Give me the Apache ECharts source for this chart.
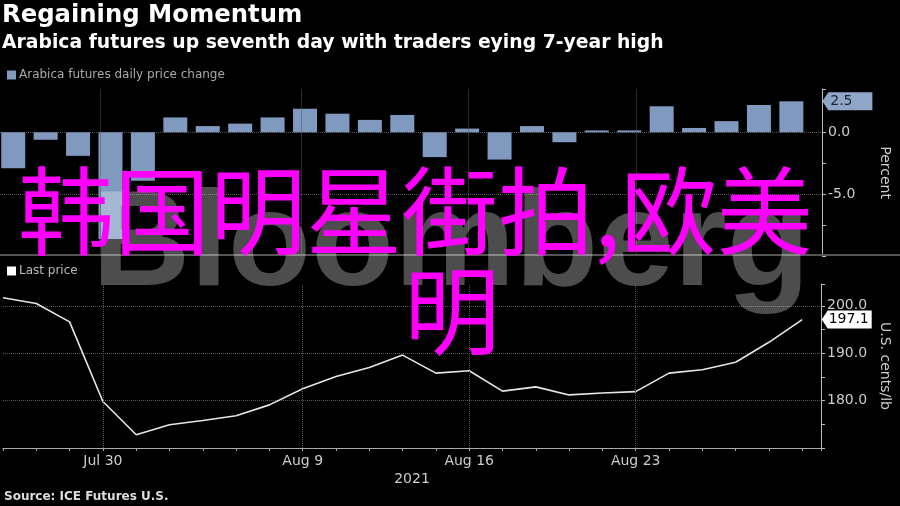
<!DOCTYPE html>
<html><head><meta charset="utf-8">
<script src="https://cdn.jsdelivr.net/npm/echarts@6/dist/echarts.min.js"></script>
<style>html,body{margin:0;padding:0;background:#000}#c{width:900px;height:506px}</style>
</head><body><div id="c"></div>
<script>
// ---- data ----
const dates = ['Jul 27','Jul 28','Jul 29','Jul 30','Aug 2','Aug 3','Aug 4','Aug 5','Aug 6','Aug 9','Aug 10','Aug 11','Aug 12','Aug 13','Aug 16','Aug 17','Aug 18','Aug 19','Aug 20','Aug 23','Aug 24','Aug 25','Aug 26','Aug 27','Aug 30'];
const priceChange = [-2.9,-0.6,-1.9,-8.6,-3.9,1.2,0.5,0.7,1.2,1.9,1.5,1.0,1.4,-2.0,0.3,-2.2,0.5,-0.8,0.15,0.15,2.1,0.35,0.9,2.2,2.5];
const lastPrice = [201.7,200.5,196.6,179.8,172.8,174.9,175.8,176.8,179.1,182.5,185.1,187.0,189.6,185.8,186.3,182.0,182.9,181.2,181.6,181.9,185.8,186.5,188.1,192.3,197.1];
const labelDates = ['Jul 30','Aug 9','Aug 16','Aug 23'];
const yearLabel = '2021';

const labelIdx = labelDates.map(d => dates.indexOf(d));
const last = dates.length - 1;
const gridLine = {type:'dotted', color:'#555', width:1};
const tagPath = 'path://M0,9 L6,0 L50,0 L50,18 L6,18 Z';
const FF = 'DejaVu Sans';

const chart = echarts.init(document.getElementById('c'), null, {renderer:'canvas'});
chart.setOption({
  backgroundColor:'#000',
  animation:false,
  textStyle:{fontFamily:FF},
  title:{
    text:'Regaining Momentum',
    subtext:'Arabica futures up seventh day with traders eying 7-year high',
    left:2, top:4, padding:0, itemGap:6,
    textStyle:{color:'#fff', fontSize:24.3, fontWeight:'bold', fontFamily:FF},
    subtextStyle:{color:'#fff', fontSize:18.8, fontWeight:'bold', fontFamily:FF}
  },
  legend:[
    {data:[{name:'Arabica futures daily price change', icon:'rect'}], left:7, top:69, padding:0,
     itemWidth:9, itemHeight:9, itemGap:4, selectedMode:false,
     textStyle:{color:'#aaa', fontSize:12, fontFamily:FF, padding:[0,0,0,-2]}},
    {data:[{name:'Last price', icon:'rect'}], left:7, top:265, padding:0,
     itemWidth:9, itemHeight:9, itemGap:4, selectedMode:false,
     textStyle:{color:'#bbb', fontSize:12, fontFamily:FF, padding:[0,0,0,-2]}}
  ],
  grid:[
    {left:0, width:826, top:88.9, height:167.4},
    {left:0, width:826, top:284, height:164}
  ],
  xAxis:[
    {gridIndex:0, type:'value', min:-0.408, max:24.945, show:false, axisLine:{onZero:false}},
    {gridIndex:0, type:'value', min:0, max:24.565, show:false, axisLine:{onZero:false}},
    {gridIndex:1, type:'value', min:0, max:24.565, interval:1,
     axisLine:{show:true, onZero:false, lineStyle:{color:'#aaa', width:1}},
     axisTick:{show:true, length:3, lineStyle:{color:'#aaa'}},
     axisLabel:{color:'#ccc', fontSize:14, margin:6, fontFamily:FF,
       formatter:v => { const i = Math.round(v); return (Math.abs(v - i) < 1e-6 && labelDates.includes(dates[i])) ? dates[i] : ''; }},
     splitLine:{show:false}}
  ],
  yAxis:[
    {gridIndex:0, type:'value', position:'right', min:-10, max:3.5, interval:5,
     name:'Percent', nameLocation:'middle', nameRotate:-90, nameGap:56,
     nameTextStyle:{color:'#ccc', fontSize:14, fontFamily:FF},
     axisLine:{show:true, onZero:false, lineStyle:{color:'#bbb'}},
     axisTick:{show:true, length:4, lineStyle:{color:'#bbb'}},
     minorTick:{show:true, splitNumber:2, length:4, lineStyle:{color:'#bbb'}},
     axisLabel:{color:'#ccc', fontSize:14, margin:6, showMinLabel:false, showMaxLabel:false, fontFamily:FF,
       formatter:v => v.toFixed(1)},
     splitLine:{show:true, showMinLine:false, showMaxLine:false, lineStyle:gridLine}},
    {gridIndex:1, type:'value', position:'right', min:170, max:204.6, interval:10,
     name:'U.S. cents/lb', nameLocation:'middle', nameRotate:-90, nameGap:56,
     nameTextStyle:{color:'#ccc', fontSize:14, fontFamily:FF},
     axisLine:{show:true, onZero:false, lineStyle:{color:'#bbb'}},
     axisTick:{show:true, length:4, lineStyle:{color:'#bbb'}},
     minorTick:{show:true, splitNumber:2, length:4, lineStyle:{color:'#bbb'}},
     axisLabel:{color:'#ccc', fontSize:14, margin:6, showMinLabel:false, showMaxLabel:false, fontFamily:FF,
       formatter:v => v.toFixed(1)},
     splitLine:{show:true, showMinLine:false, showMaxLine:false, lineStyle:gridLine}}
  ],
  series:[
    {name:'Arabica futures daily price change', type:'bar', xAxisIndex:0, yAxisIndex:0,
     barWidth:24, itemStyle:{color:'#8099bf'},
     data:priceChange.map((v,i)=>[i,v]),
     markPoint:{symbol:tagPath, symbolSize:[50,18], symbolOffset:[56,0], silent:true,
       itemStyle:{color:'#8fa6c8'},
       label:{show:true, position:'inside', offset:[-6,0], color:'#1a2233', fontSize:14, fontFamily:FF,
         formatter:p => Number(p.value).toFixed(1)},
       data:[{coord:[last, priceChange[last]], value:priceChange[last]}]}},
    {name:'gridHelper', type:'line', xAxisIndex:1, yAxisIndex:0, data:[], silent:true,
     markLine:{symbol:'none', silent:true, label:{show:false}, lineStyle:gridLine,
       data:labelIdx.map(i=>({xAxis:i}))}},
    {name:'Last price', type:'line', xAxisIndex:2, yAxisIndex:1, symbol:'none',
     lineStyle:{color:'#e6e6e6', width:1.6}, itemStyle:{color:'#fff'},
     data:lastPrice.map((v,i)=>[i,v]),
     markLine:{symbol:'none', silent:true, label:{show:false}, lineStyle:gridLine,
       data:labelIdx.map(i=>({xAxis:i}))},
     markPoint:{symbol:tagPath, symbolSize:[50,18], symbolOffset:[44.5,0], silent:true,
       itemStyle:{color:'#fff'},
       label:{show:true, position:'inside', offset:[2,0], color:'#000', fontSize:14, fontFamily:FF,
         formatter:p => Number(p.value).toFixed(1)},
       data:[{coord:[last, lastPrice[last]], value:lastPrice[last]}]}}
  ],
  graphic:[
    {type:'line', z:90, silent:true, shape:{x1:0, y1:255, x2:900, y2:255}, style:{stroke:'#555', lineWidth:2}},
    {type:'text', z:100, silent:true, x:92, y:247,
     style:{text:'Bloomberg', fill:'rgba(255,255,255,0.3)', fontSize:136, fontWeight:'bold', fontFamily:'Liberation Sans', verticalAlign:'middle', align:'left'}},
    {type:'text', z:95, silent:true, x:412, y:479,
     style:{text:yearLabel, fill:'#ccc', fontSize:14, fontFamily:FF, align:'center', verticalAlign:'middle'}},
    {type:'text', z:95, silent:true, x:4, y:497,
     style:{text:'Source: ICE Futures U.S.', fill:'#ddd', fontSize:12, fontWeight:'bold', fontFamily:FF, align:'left', verticalAlign:'middle'}},
    {type:'text', z:120, silent:true, x:18, y:211,
     style:{text:'韩国明星街拍,欧美', fill:'#ff00ff', fontSize:96, fontFamily:'Noto Sans CJK SC', align:'left', verticalAlign:'middle'}},
    {type:'text', z:120, silent:true, x:404, y:311,
     style:{text:'明', fill:'#ff00ff', fontSize:96, fontFamily:'Noto Sans CJK SC', align:'left', verticalAlign:'middle'}}
  ]
});
</script></body></html>
